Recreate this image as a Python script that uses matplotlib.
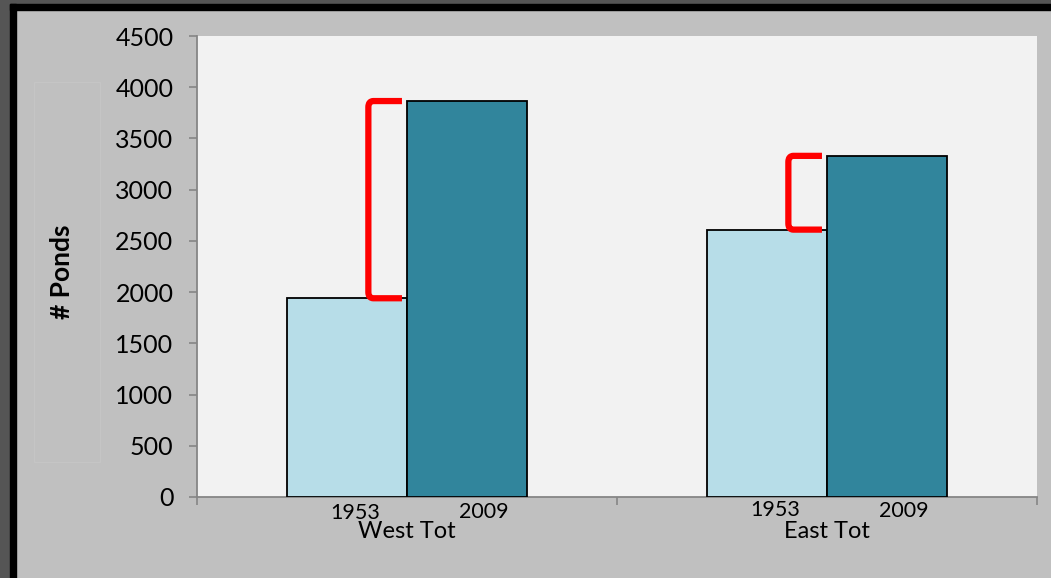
import matplotlib
matplotlib.use("Agg")
import matplotlib.pyplot as plt
from matplotlib.patches import Rectangle, PathPatch
from matplotlib.path import Path
import matplotlib.transforms as mtransforms
import numpy as np

categories = ["West Tot", "East Tot"]
years = ["1953", "2009"]
values_1953 = [1940, 2610]
values_2009 = [3865, 3330]
y_ticks = [0, 500, 1000, 1500, 2000, 2500, 3000, 3500, 4000, 4500]

W, H = 1051, 578
plt.rcParams['font.family'] = ['Lato', 'DejaVu Sans']

fig = plt.figure(figsize=(W / 100, H / 100), dpi=100)
fig.patch.set_facecolor('#c0c0c0')

def fx(px):
    return px / W

def fy(py):
    return 1 - py / H

ax = fig.add_axes([fx(197), fy(497), fx(1037) - fx(197), fy(36) - fy(497)])
ax.set_facecolor('#f2f2f2')

x = np.arange(len(categories))
bw = 120 / 420
light = '#b7dde8'
dark = '#31859c'
ax.bar(x - bw / 2, values_1953, width=bw, color=light, edgecolor='black', linewidth=1.3, zorder=3)
ax.bar(x + bw / 2, values_2009, width=bw, color=dark, edgecolor='black', linewidth=1.3, zorder=3)

ax.set_xlim(-0.5, len(categories) - 0.5)
ax.set_ylim(0, 4500)
ax.set_yticks(y_ticks)
ax.set_yticklabels([str(v) for v in y_ticks], fontsize=18)
ax.set_xticks(np.arange(len(categories) + 1) - 0.5)
ax.set_xticklabels([])
ax.tick_params(axis='y', length=6, width=1.2, color='#868686', pad=11, labelcolor='black')
ax.tick_params(axis='x', length=6, width=1.2, color='#868686')
for s in ['top', 'right']:
    ax.spines[s].set_visible(False)
for s in ['left', 'bottom']:
    ax.spines[s].set_color('#868686')
    ax.spines[s].set_linewidth(1.3)

# category & year labels
tr = mtransforms.blended_transform_factory(ax.transData, fig.transFigure)
year_base = [(519, 518), (516, 517)]
for i, c in enumerate(categories):
    ax.text(i - bw / 2 + 0.02, fy(year_base[i][0]), years[0], transform=tr, ha='center', va='baseline', fontsize=15.5, clip_on=False)
    ax.text(i + bw / 2 + 0.04, fy(year_base[i][1]), years[1], transform=tr, ha='center', va='baseline', fontsize=15.5, clip_on=False)
    ax.text(i, fy(538), c, transform=tr, ha='center', va='baseline', fontsize=17, clip_on=False)

# y label
fig.text(fx(62), fy(272), '# Ponds', rotation=90, ha='center', va='center', fontsize=19, fontweight='bold')
fig.patches.append(Rectangle((fx(34), fy(462)), fx(100) - fx(34), fy(82) - fy(462),
                             transform=fig.transFigure, fill=False, edgecolor='#c5c5c5', linewidth=1))

# red brackets
for i in range(len(categories)):
    x0 = i - 0.092
    x1 = i - 0.012
    ytop = values_2009[i]
    ybot = values_1953[i]
    rx, ry = 0.012, 60
    verts = [(x1, ytop), (x0 + rx, ytop), (x0, ytop), (x0, ytop - ry),
             (x0, ybot + ry), (x0, ybot), (x0 + rx, ybot), (x1, ybot)]
    codes = [Path.MOVETO, Path.LINETO, Path.CURVE3, Path.CURVE3,
             Path.LINETO, Path.CURVE3, Path.CURVE3, Path.LINETO]
    ax.add_patch(PathPatch(Path(verts, codes), fill=False, edgecolor='#ff0000',
                           linewidth=4.5, capstyle='butt', joinstyle='round', zorder=4))

# frame borders
fig.patches.append(Rectangle((0, fy(4)), 1, fy(0) - fy(4), transform=fig.transFigure, color='#555555', zorder=-1))
fig.patches.append(Rectangle((0, 0), fx(10), 1, transform=fig.transFigure, color='#555555', zorder=-1))
fig.patches.append(Rectangle((fx(10), fy(10)), 1, fy(4) - fy(10), transform=fig.transFigure, color='black', zorder=-1))
fig.patches.append(Rectangle((fx(10), 0), fx(6), fy(4), transform=fig.transFigure, color='black', zorder=-1))

fig.savefig('out.png', dpi=100, facecolor=fig.get_facecolor())
